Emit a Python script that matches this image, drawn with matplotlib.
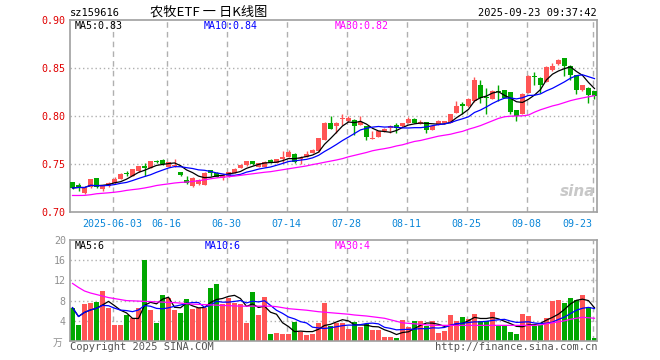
import matplotlib
matplotlib.use("Agg")
import matplotlib.pyplot as plt
import numpy as np
import pandas as pd

# ---------------- data ----------------
opens = [0.7308, 0.7285, 0.7200, 0.7259, 0.7350, 0.7241, 0.7269, 0.7297, 0.7345, 0.7408,
         0.7380, 0.7426, 0.7478, 0.7460, 0.7530, 0.7540, 0.7470, 0.7477, 0.7415, 0.7338,
         0.7270, 0.7290, 0.7286, 0.7436, 0.7408, 0.7356, 0.7372, 0.7408, 0.7460, 0.7485,
         0.7529, 0.7470, 0.7470, 0.7540, 0.7512, 0.7547, 0.7575, 0.7609, 0.7547, 0.7575,
         0.7616, 0.7633, 0.7755, 0.7922, 0.7894, 0.7970, 0.7946, 0.7963, 0.7911, 0.7894,
         0.7762, 0.7783, 0.7842, 0.7877, 0.7911, 0.7894, 0.7929, 0.7970, 0.7918, 0.7936,
         0.7859, 0.7911, 0.7922, 0.7929, 0.8033, 0.8120, 0.8103, 0.8155, 0.8318, 0.8196,
         0.8179, 0.8259, 0.8269, 0.8248, 0.8061, 0.8024, 0.8241, 0.8412, 0.8398, 0.8353,
         0.8477, 0.8537, 0.8599, 0.8526, 0.8422, 0.8269, 0.8293, 0.8259]
closes = [0.7250, 0.7262, 0.7252, 0.7345, 0.7262, 0.7269, 0.7300, 0.7345, 0.7401, 0.7395,
          0.7443, 0.7478, 0.7455, 0.7530, 0.7520, 0.7495, 0.7522, 0.7488, 0.7390, 0.7297,
          0.7356, 0.7338, 0.7408, 0.7410, 0.7366, 0.7390, 0.7415, 0.7450, 0.7490, 0.7530,
          0.7495, 0.7512, 0.7526, 0.7512, 0.7547, 0.7575, 0.7623, 0.7519, 0.7564, 0.7609,
          0.7651, 0.7772, 0.7929, 0.7866, 0.7929, 0.7984, 0.7981, 0.7894, 0.7936, 0.7783,
          0.7766, 0.7842, 0.7866, 0.7894, 0.7877, 0.7922, 0.7970, 0.7929, 0.7936, 0.7859,
          0.7901, 0.7946, 0.7946, 0.8016, 0.8102, 0.8103, 0.8179, 0.8380, 0.8189, 0.8189,
          0.8259, 0.8249, 0.8189, 0.8040, 0.8005, 0.8224, 0.8415, 0.8405, 0.8328, 0.8512,
          0.8519, 0.8582, 0.8526, 0.8422, 0.8269, 0.8318, 0.8214, 0.8207]
highs = [0.7312, 0.7300, 0.7255, 0.7348, 0.7355, 0.7275, 0.7315, 0.7362, 0.7405, 0.7425,
         0.7448, 0.7482, 0.7512, 0.7535, 0.7540, 0.7555, 0.7525, 0.7555, 0.7420, 0.7372,
         0.7360, 0.7345, 0.7412, 0.7440, 0.7412, 0.7395, 0.7420, 0.7455, 0.7495, 0.7535,
         0.7535, 0.7515, 0.7530, 0.7556, 0.7550, 0.7633, 0.7643, 0.7615, 0.7581, 0.7633,
         0.7655, 0.7776, 0.7933, 0.8005, 0.7933, 0.8016, 0.8005, 0.7968, 0.7998, 0.7898,
         0.7842, 0.7846, 0.7870, 0.7911, 0.7929, 0.7926, 0.7991, 0.7974, 0.7956, 0.7940,
         0.7905, 0.7963, 0.7950, 0.8020, 0.8155, 0.8144, 0.8183, 0.8408, 0.8380, 0.8294,
         0.8276, 0.8328, 0.8273, 0.8252, 0.8065, 0.8241, 0.8432, 0.8460, 0.8402, 0.8516,
         0.8554, 0.8596, 0.8603, 0.8530, 0.8426, 0.8322, 0.8297, 0.8263]
lows = [0.7240, 0.7215, 0.7190, 0.7250, 0.7255, 0.7215, 0.7262, 0.7290, 0.7340, 0.7375,
        0.7375, 0.7420, 0.7380, 0.7455, 0.7515, 0.7490, 0.7465, 0.7470, 0.7372, 0.7290,
        0.7262, 0.7285, 0.7280, 0.7370, 0.7360, 0.7330, 0.7368, 0.7405, 0.7455, 0.7480,
        0.7490, 0.7465, 0.7465, 0.7508, 0.7508, 0.7512, 0.7570, 0.7512, 0.7505, 0.7570,
        0.7612, 0.7628, 0.7750, 0.7860, 0.7825, 0.7911, 0.7940, 0.7807, 0.7905, 0.7755,
        0.7758, 0.7778, 0.7838, 0.7825, 0.7825, 0.7890, 0.7925, 0.7925, 0.7914, 0.7824,
        0.7855, 0.7907, 0.7918, 0.7925, 0.8028, 0.8016, 0.8098, 0.8150, 0.8137, 0.8016,
        0.8175, 0.8155, 0.8185, 0.8016, 0.7946, 0.8020, 0.8237, 0.8328, 0.8241, 0.8349,
        0.8473, 0.8533, 0.8415, 0.8380, 0.8224, 0.8265, 0.8137, 0.8172]
volumes = [6.6, 3.1, 7.3, 7.6, 7.8, 9.9, 6.6, 3.1, 3.1, 5.1,
           4.5, 6.5, 16.1, 6.1, 3.6, 9.1, 8.5, 6.1, 5.6, 8.3,
           6.3, 6.5, 6.5, 10.5, 11.3, 7.3, 8.6, 7.5, 7.3, 3.6,
           9.7, 5.1, 8.8, 1.3, 1.6, 1.3, 1.3, 3.8, 1.8, 1.1,
           1.3, 3.6, 7.6, 2.9, 3.5, 3.5, 2.4, 3.7, 2.8, 3.3,
           2.1, 2.1, 0.8, 0.8, 0.6, 4.1, 2.8, 4.0, 4.0, 2.9,
           4.0, 1.6, 2.0, 5.1, 4.0, 4.7, 4.3, 5.3, 4.0, 4.0,
           5.7, 2.9, 2.9, 1.7, 1.3, 5.3, 4.9, 2.9, 3.1, 4.5,
           8.0, 8.1, 7.6, 8.5, 8.1, 9.1, 6.7, 0.5]
ma30_price = [0.7172, 0.7172, 0.7173, 0.7180, 0.7190, 0.7195, 0.7200, 0.7206, 0.7214, 0.7225,
              0.7233, 0.7240, 0.7250, 0.7262, 0.7276, 0.7285, 0.7293, 0.7302, 0.7308, 0.7312,
              0.7318, 0.7326, 0.7335, 0.7346, 0.7355, 0.7362, 0.7368, 0.7374, 0.7382, 0.7390,
              0.7398, 0.7406, 0.7414, 0.7420, 0.7430, 0.7440, 0.7450, 0.7460, 0.7470, 0.7480,
              0.7494, 0.7505, 0.7518, 0.7530, 0.7542, 0.7556, 0.7575, 0.7590, 0.7605, 0.7620,
              0.7638, 0.7650, 0.7660, 0.7672, 0.7688, 0.7700, 0.7718, 0.7735, 0.7745, 0.7760,
              0.7775, 0.7790, 0.7800, 0.7810, 0.7826, 0.7840, 0.7862, 0.7880, 0.7900, 0.7925,
              0.7950, 0.7975, 0.7992, 0.7998, 0.8000, 0.8002, 0.8010, 0.8040, 0.8065, 0.8085,
              0.8105, 0.8120, 0.8140, 0.8160, 0.8175, 0.8188, 0.8200, 0.8212]
ma30_vol = [11.4, 10.6, 9.9, 9.5, 9.2, 8.9, 8.6, 8.4, 8.2, 8.0,
            7.95, 7.9, 7.85, 7.8, 7.75, 7.7, 7.65, 7.6, 7.5, 7.4,
            7.3, 7.25, 7.2, 7.15, 7.1, 7.05, 7.0, 6.95, 6.9, 6.9,
            6.9, 6.9, 6.9, 6.9, 6.8, 6.6, 6.4, 6.3, 6.2, 6.1,
            5.95, 5.8, 5.7, 5.6, 5.5, 5.4, 5.3, 5.15, 5.05, 4.95,
            4.8, 4.65, 4.5, 4.2, 3.9, 3.6, 3.5, 3.4, 3.3, 3.2,
            3.1, 3.1, 3.1, 3.1, 3.1, 3.1, 3.1, 3.1, 3.1, 3.1,
            3.1, 3.1, 3.1, 3.1, 3.1, 3.1, 3.1, 3.1, 3.2, 3.4,
            3.6, 3.8, 4.0, 4.3, 4.5, 4.7, 4.6, 4.5]
tick_index = [7, 16, 26, 36, 46, 56, 66, 76, 87]
tick_labels = ['2025-06-03', '06-16', '06-30', '07-14', '07-28', '08-11', '08-25', '09-08', '09-23']
price_ticks = [0.70, 0.75, 0.80, 0.85, 0.90]
vol_ticks = [4, 8, 12, 16, 20]

# ---------------- styling ----------------
W, H = 660, 360
RED = '#ff5555'
GREEN = '#00a800'
FRAME = '#a0a0a0'
GRID = '#b0b0b0'
MONO = 'DejaVu Sans Mono'
CJK = ['Noto Sans CJK SC', 'DejaVu Sans']

fig = plt.figure(figsize=(W / 100, H / 100), dpi=100)
fig.patch.set_facecolor('white')


def rect(x0, y0, x1, y1):
    return [x0 / W, 1 - y1 / H, (x1 - x0) / W, (y1 - y0) / H]


ax = fig.add_axes(rect(70, 20, 597, 212))
axv = fig.add_axes(rect(70, 240, 597, 341))

o = np.array(opens); c = np.array(closes); h = np.array(highs); l = np.array(lows)
v = np.array(volumes)
x = np.arange(len(o))
up = c >= o
colors = np.where(up, RED, GREEN)

ma5 = pd.Series(c).rolling(5, min_periods=1).mean().values
ma10 = pd.Series(c).rolling(10, min_periods=1).mean().values
vma5 = pd.Series(v).rolling(5, min_periods=1).mean().values
vma10 = pd.Series(v).rolling(10, min_periods=1).mean().values

grid_x = np.array(tick_index) - 0.3
xlim = (-0.42, len(o) - 0.58)

for a in (ax, axv):
    a.set_xlim(*xlim)
    for s in a.spines.values():
        s.set_color(FRAME)
        s.set_linewidth(1.2)
    for gx in grid_x:
        a.axvline(gx, color=GRID, lw=1, ls=(0, (4, 3)), zorder=0)
    a.tick_params(length=0)

# price panel
ax.set_ylim(0.70, 0.90)
for gy in price_ticks[1:-1]:
    ax.axhline(gy, color=GRID, lw=1, ls=(0, (1, 2)), zorder=0)
ax.vlines(x, l, h, colors=colors, lw=1, zorder=2)
body_bottom = np.minimum(o, c)
body_h = np.maximum(np.abs(c - o), 0.0006)
ax.bar(x, body_h, bottom=body_bottom, width=0.8, color=colors, linewidth=0, zorder=3)
ax.plot(x, ma5, color='black', lw=0.9, zorder=4)
ax.plot(x, ma10, color='#0000ff', lw=0.9, zorder=4)
ax.plot(x, ma30_price, color='#ff00ff', lw=0.9, zorder=4)
ax.set_yticks(price_ticks)
ax.set_yticklabels(['%.2f' % t for t in price_ticks], color='#e00000', fontsize=7.2, family=MONO)
ax.tick_params(axis='y', pad=3)
ax.set_xticks(grid_x)
labs = ax.set_xticklabels(tick_labels, color='#0a86d8', fontsize=7.2, family=MONO)
labs[-1].set_ha('right')
ax.tick_params(axis='x', pad=5)

# volume panel
axv.set_ylim(0, 20)
for gy in vol_ticks[:-1]:
    axv.axhline(gy, color=GRID, lw=1, ls=(0, (1, 2)), zorder=0)
axv.bar(x, v, width=0.8, color=colors, linewidth=0, zorder=2)
axv.plot(x, vma5, color='black', lw=0.9, zorder=3)
axv.plot(x, vma10, color='#0000ff', lw=0.9, zorder=3)
axv.plot(x, ma30_vol, color='#ff00ff', lw=0.9, zorder=3)
axv.set_yticks(vol_ticks)
axv.set_yticklabels([str(t) for t in vol_ticks], color='#909090', fontsize=7.2, family=MONO)
axv.tick_params(axis='y', pad=3)
axv.set_xticks([])


def ftext(px, py, s, **kw):
    fig.text(px / W, 1 - py / H, s, va='center', **kw)


# header
ftext(70, 13, 'sz159616', fontsize=7.5, family=MONO, color='black')
ftext(150, 12, '农牧ETF 一 日K线图', fontsize=9.5, family=CJK, color='black')
ftext(597, 13, '2025-09-23 09:37:42', fontsize=7.5, family=MONO, color='black', ha='right')

# MA legends
ftext(75, 26, 'MA5:%.2f' % ma5[-1], fontsize=7.2, family=MONO, color='black')
ftext(204, 26, 'MA10:%.2f' % ma10[-1], fontsize=7.2, family=MONO, color='#0000ff')
ftext(335, 26, 'MA30:%.2f' % ma30_price[-1], fontsize=7.2, family=MONO, color='#ff00ff')
ftext(75, 246, 'MA5:%d' % int(vma5[-1]), fontsize=7.2, family=MONO, color='black')
ftext(205, 246, 'MA10:%d' % int(vma10[-1]), fontsize=7.2, family=MONO, color='#0000ff')
ftext(335, 246, 'MA30:%d' % int(ma30_vol[-1]), fontsize=7.2, family=MONO, color='#ff00ff')
ftext(62, 343, '万', fontsize=7, family=CJK, color='#909090', ha='right')

# watermark & footer
ftext(578, 192, 'sina', fontsize=11, family='DejaVu Sans', color='#c8c8c8',
      style='italic', weight='bold', ha='center')
ftext(70, 347, 'Copyright 2025 SINA.COM', fontsize=7.5, family=MONO, color='#555555')
ftext(597, 347, 'http://finance.sina.com.cn', fontsize=7.5, family=MONO, color='#555555', ha='right')

fig.savefig('out.png', dpi=100)
